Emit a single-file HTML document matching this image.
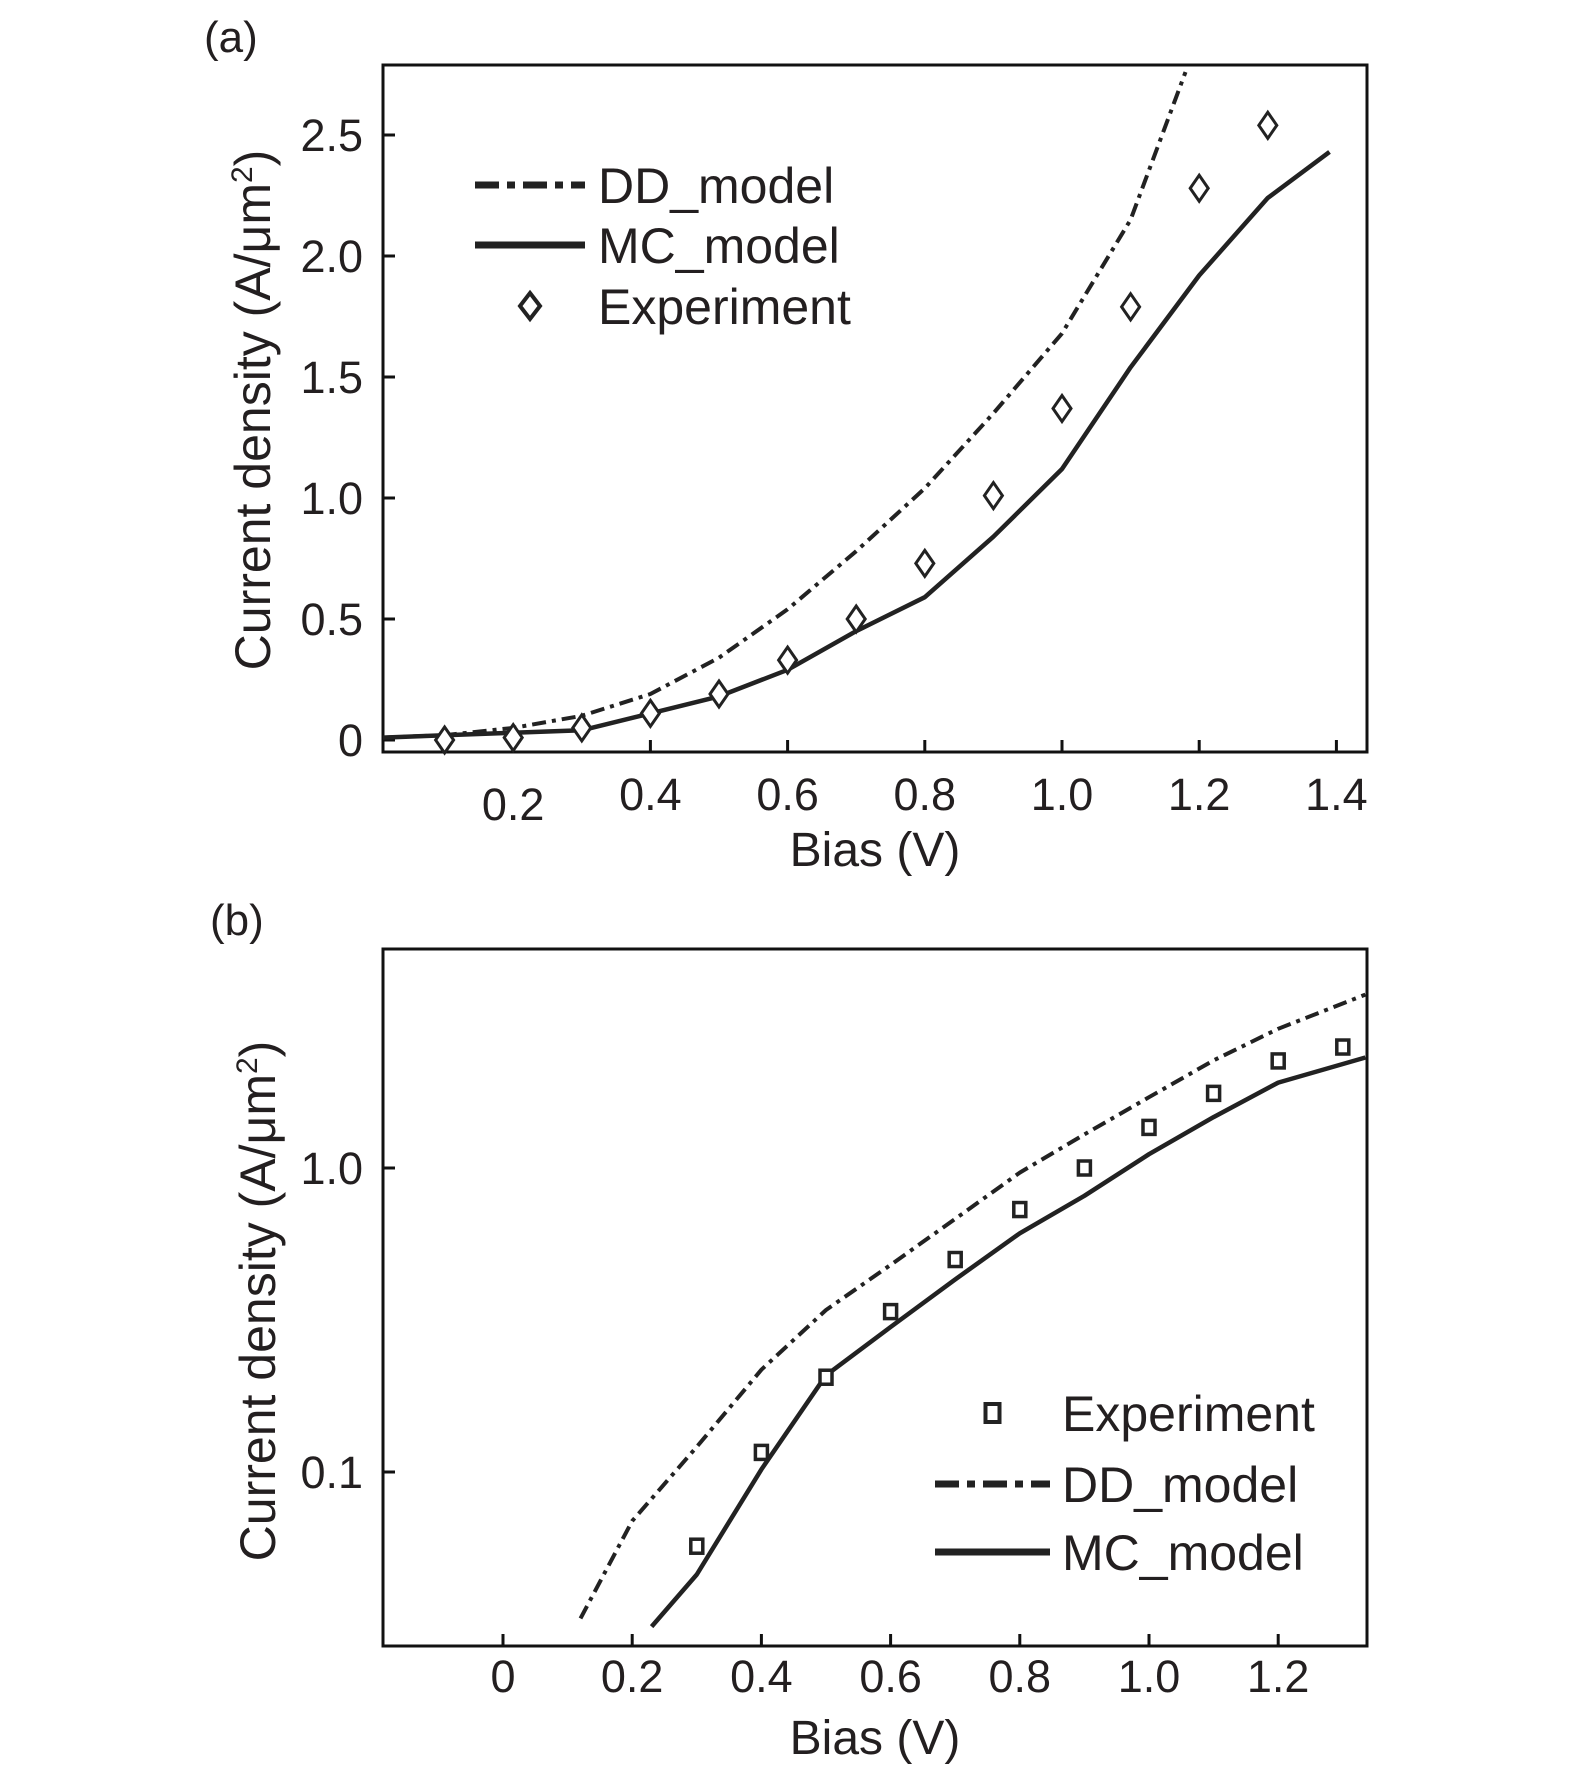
<!DOCTYPE html>
<html><head><meta charset="utf-8"><style>
html,body{margin:0;padding:0;background:#fff}
svg{display:block;font-family:"Liberation Sans",sans-serif;fill:#231f20}
</style></head><body>
<svg id="fig" width="1575" height="1768" viewBox="0 0 1575 1768" xmlns="http://www.w3.org/2000/svg">
<text x="204" y="52" font-size="44">(a)</text>
<text x="210" y="935" font-size="44">(b)</text>
<text transform="translate(270,410) rotate(-90)" text-anchor="middle" font-size="50">Current density (A/μm<tspan dy="-18" font-size="30">2</tspan><tspan dy="18">)</tspan></text>
<text transform="translate(275,1301) rotate(-90)" text-anchor="middle" font-size="50">Current density (A/μm<tspan dy="-18" font-size="30">2</tspan><tspan dy="18">)</tspan></text>
<text x="875" y="866" text-anchor="middle" font-size="48">Bias (V)</text>
<text x="875" y="1754" text-anchor="middle" font-size="48">Bias (V)</text>
<g id="ga"></g>
<g id="gb"></g>
</svg>
<script>
// Panel (a) data
const aExpX=[0.1,0.2,0.3,0.4,0.5,0.6,0.7,0.8,0.9,1.0,1.1,1.2,1.3];
const aExpY=[0.0,0.01,0.05,0.11,0.19,0.33,0.50,0.73,1.01,1.37,1.79,2.28,2.54];
const aDDX=[0.01,0.1,0.2,0.3,0.4,0.5,0.6,0.7,0.8,0.9,1.0,1.1,1.18];
const aDDY=[0.01,0.02,0.05,0.1,0.19,0.34,0.54,0.78,1.04,1.35,1.68,2.15,2.76];
const aMCX=[0.01,0.1,0.2,0.3,0.4,0.5,0.6,0.7,0.8,0.9,1.0,1.1,1.2,1.3,1.39];
const aMCY=[0.01,0.02,0.03,0.04,0.11,0.18,0.29,0.45,0.59,0.84,1.12,1.54,1.92,2.24,2.43];
const aXTicks=[0.2,0.4,0.6,0.8,1.0,1.2,1.4];
const aXTickLabels=["0.2","0.4","0.6","0.8","1.0","1.2","1.4"];
const aYTicks=[0,0.5,1.0,1.5,2.0,2.5];
const aYTickLabels=["0","0.5","1.0","1.5","2.0","2.5"];
// Panel (b) data
const bExpX=[0.3,0.4,0.5,0.6,0.7,0.8,0.9,1.0,1.1,1.2,1.3];
const bExpY=[0.057,0.116,0.205,0.337,0.50,0.73,1.0,1.36,1.76,2.25,2.5];
const bDDX=[0.12,0.2,0.3,0.4,0.5,0.6,0.7,0.8,0.9,1.0,1.1,1.2,1.335];
const bDDY=[0.033,0.069,0.121,0.217,0.341,0.48,0.68,0.966,1.29,1.71,2.26,2.87,3.72];
const bMCX=[0.23,0.3,0.4,0.5,0.6,0.7,0.8,0.9,1.0,1.1,1.2,1.335];
const bMCY=[0.031,0.046,0.102,0.208,0.30,0.43,0.61,0.81,1.11,1.47,1.91,2.31];
const bXTicks=[0,0.2,0.4,0.6,0.8,1.0,1.2];
const bXTickLabels=["0","0.2","0.4","0.6","0.8","1.0","1.2"];
const bYTicks=[0.1,1.0];
const bYTickLabels=["0.1","1.0"];

const NS="http://www.w3.org/2000/svg";
function mk(p,tag,at){const e=document.createElementNS(NS,tag);for(const k in at)e.setAttribute(k,at[k]);p.appendChild(e);return e;}
// axis functions
const axA=x=>376+x*686, ayA=y=>740-y*242;
const axB=x=>503+x*646, ayB=y=>1168-Math.log10(y)*304;

function panel(g,L,T,R,B,ax,ay,xt,xl,yt,yl,xlY,p){
  const f=mk(g,'rect',{x:L,y:T,width:R-L,height:B-T,fill:'none',stroke:'#111','stroke-width':3});
  
  
  xt.forEach((v,i)=>{
    const t=mk(g,'line',{x1:ax(v),x2:ax(v),y1:B,y2:B-12,stroke:'#111','stroke-width':3});
    
    
    const s=mk(g,'text',{x:ax(v),y:(p==='a'&&i===0)?xlY+10:xlY,'text-anchor':'middle','font-size':45});
    s.textContent=xl[i];
    
    
  });
  yt.forEach((v,i)=>{
    const t=mk(g,'line',{x1:L,x2:L+12,y1:ay(v),y2:ay(v),stroke:'#111','stroke-width':3});
    
    
    const s=mk(g,'text',{x:L-20,y:ay(v)+16,'text-anchor':'end','font-size':45});
    s.textContent=yl[i];
    
    
  });
}
function line(g,xs,ys,ax,ay,dash,w,name){
  const d=xs.map((x,i)=>(i?'L':'M')+ax(x).toFixed(1)+','+ay(ys[i]).toFixed(1)).join('');
  const at={d:d,fill:'none',stroke:'#222','stroke-width':w,'stroke-linejoin':'round'};
  if(dash)at['stroke-dasharray']=dash;
  const e=mk(g,'path',at);
  
  
}
const ga=document.getElementById('ga'), gb=document.getElementById('gb');
panel(ga,383,65,1367,752,axA,ayA,aXTicks,aXTickLabels,aYTicks,aYTickLabels,810,'a');
panel(gb,383,949,1367,1646,axB,ayB,bXTicks,bXTickLabels,bYTicks,bYTickLabels,1692,'b');
const cb=mk(gb,'clipPath',{id:'cb'});mk(cb,'rect',{x:383,y:949,width:984,height:697});
const gbc=mk(gb,'g',{'clip-path':'url(#cb)'});
line(ga,aDDX,aDDY,axA,ayA,'14 6 4 6',4,'dd-model-line-a');
line(ga,aMCX,aMCY,axA,ayA,null,4.5,'mc-model-line-a');
line(gbc,bDDX,bDDY,axB,ayB,'14 6 4 6',4,'dd-model-line-b');
line(gbc,bMCX,bMCY,axB,ayB,null,4.5,'mc-model-line-b');
aExpX.forEach((x,i)=>{const cx=axA(x),cy=ayA(aExpY[i]);
  const e=mk(ga,'path',{d:`M${cx},${cy-13}L${cx+9},${cy}L${cx},${cy+13}L${cx-9},${cy}Z`,fill:'#fff',stroke:'#222','stroke-width':3});
  
  });
bExpX.forEach((x,i)=>{const cx=axB(x),cy=ayB(bExpY[i]);
  const e=mk(gb,'rect',{x:cx-6,y:cy-7,width:12,height:14,fill:'#fff',stroke:'#222','stroke-width':3.5});
  
  });
// legends
function leg(g,x1,x2,y,kind,label,tx){
  if(kind==='dd'){const e=mk(g,'line',{x1:x1,x2:x2,y1:y,y2:y,stroke:'#222','stroke-width':7,'stroke-dasharray':'24 8 8 8'});}
  else if(kind==='mc'){const e=mk(g,'line',{x1:x1,x2:x2,y1:y,y2:y,stroke:'#222','stroke-width':7});}
  else if(kind==='dia'){const c=(x1+x2)/2;const e=mk(g,'path',{d:`M${c},${y-13}L${c+10},${y}L${c},${y+13}L${c-10},${y}Z`,fill:'#fff',stroke:'#222','stroke-width':4});}
  else {const c=(x1+x2)/2;const e=mk(g,'rect',{x:c-7,y:y-9,width:14,height:18,fill:'#fff',stroke:'#222','stroke-width':4});}
  const t=mk(g,'text',{x:tx,y:y+18,'font-size':50});t.textContent=label;
  
  
}
leg(ga,475,585,185,'dd','DD_model',598);
leg(ga,475,585,245,'mc','MC_model',598);
leg(ga,475,585,306,'dia','Experiment',598);
leg(gb,935,1050,1413,'sq','Experiment',1062);
leg(gb,935,1050,1484,'dd','DD_model',1062);
leg(gb,935,1050,1552,'mc','MC_model',1062);
</script>
</body></html>
